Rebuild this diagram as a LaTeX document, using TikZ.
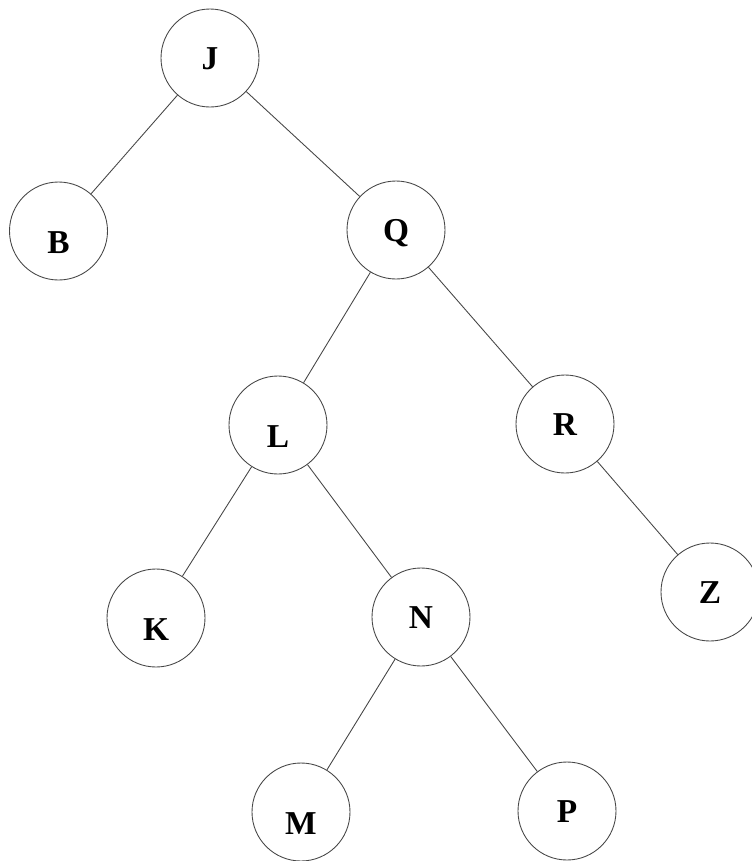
\documentclass[tikz,border=0pt]{standalone}
\usepackage{fontspec}
\setmainfont{Liberation Serif}
\usepackage{tikz}
\usetikzlibrary{positioning}
\definecolor{ink}{RGB}{70,70,70}
\tikzset{
  vtx/.style={circle,draw=ink,line width=0.5pt,minimum size=1.96cm,inner sep=0pt,
    font=\fontsize{19}{22}\selectfont\bfseries,text height=0.44cm,text depth=0pt},
  mid/.style={},
  low/.style={text height=0.88cm},
  link/.style={draw=ink,line width=0.5pt},
}
\begin{document}
\begin{tikzpicture}
  \useasboundingbox (0,0) rectangle (15.04,-17.22);
  \foreach \n/\x/\y/\s in {J/4.20/-1.16/mid,B/1.17/-4.62/low,Q/7.92/-4.60/mid,
      L/5.56/-8.50/low,R/11.30/-8.48/mid,K/3.12/-12.36/low,N/8.42/-12.34/mid,
      Z/14.20/-11.84/mid,M/6.02/-16.24/low,P/11.34/-16.22/mid} {
    \node[vtx,\s] (\n) at (\x,\y) {\n};
  }
  \foreach \a/\b in {J/B,J/Q,Q/L,Q/R,L/K,L/N,R/Z,N/M,N/P} {
    \draw[link] (\a) -- (\b);
  }
\end{tikzpicture}
\end{document}
